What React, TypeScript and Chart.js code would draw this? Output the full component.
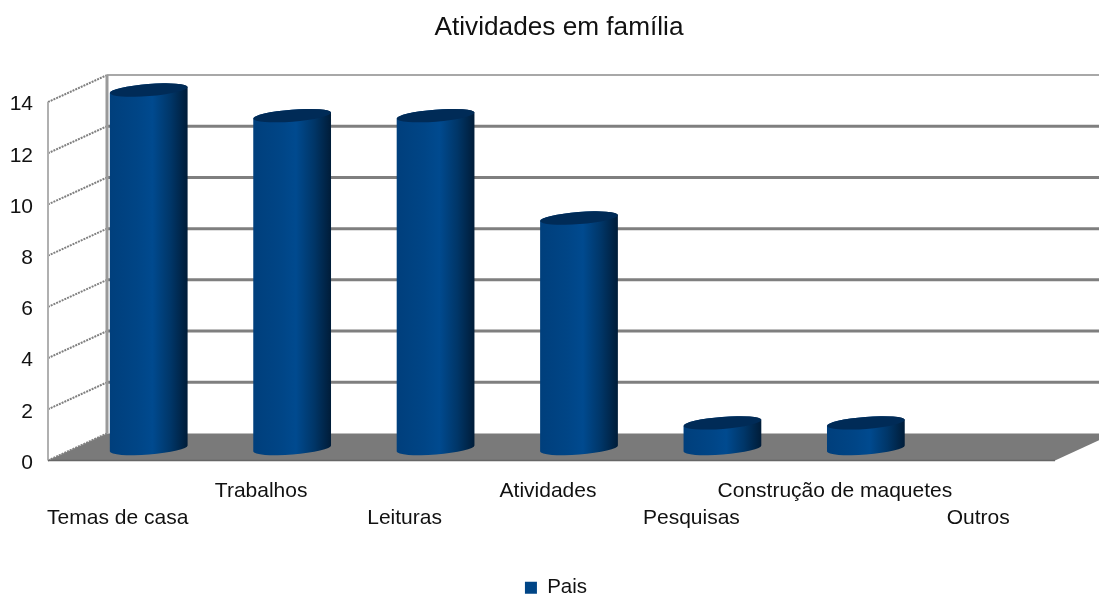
import React, { useEffect, useRef } from "react";
import { Chart, BarController, registerables } from "chart.js";

const categories = ["Temas de casa", "Trabalhos", "Leituras", "Atividades", "Pesquisas", "Construção de maquetes", "Outros"];
const paisValues = [14, 13, 13, 9, 1, 1, 0];
const yTicks = [0, 2, 4, 6, 8, 10, 12, 14];
const chartTitle = "Atividades em família";
const seriesName = "Pais";

const FONT = '"Liberation Sans", Arial, sans-serif';
const DEPTH_X = 59;
const DEPTH_Y = 27;
const BAR_SHIFT_X = 31;
const BAR_SHIFT_Y = 12;
const TILT = (-4.5 * Math.PI) / 180;
const BAR_RY = 6;

class CylinderController extends BarController {
  static id = "cylinder";
  static defaults = BarController.defaults;
  static overrides = BarController.overrides;

  draw() {
    const ctx = this.chart.ctx;
    const bars = this.getMeta().data as any[];
    bars.forEach((bar) => {
      if (Math.abs(bar.base - bar.y) < 1) return;
      const rx = bar.width / 2;
      const cx = bar.x + BAR_SHIFT_X;
      const topY = bar.y - BAR_SHIFT_Y;
      const baseY = bar.base - BAR_SHIFT_Y;
      const dx = rx * Math.cos(TILT);
      const dy = rx * Math.sin(TILT);
      const grad = ctx.createLinearGradient(cx - rx, 0, cx + rx, 0);
      grad.addColorStop(0, "#003f7c");
      grad.addColorStop(0.35, "#004586");
      grad.addColorStop(0.55, "#004a8f");
      grad.addColorStop(0.78, "#003668");
      grad.addColorStop(1, "#001c38");
      ctx.save();
      ctx.beginPath();
      ctx.ellipse(cx, baseY, rx, BAR_RY, TILT, Math.PI, 0, true);
      ctx.lineTo(cx + dx, topY + dy);
      ctx.ellipse(cx, topY, rx, BAR_RY, TILT, 0, Math.PI, true);
      ctx.closePath();
      ctx.fillStyle = grad;
      ctx.fill();
      ctx.beginPath();
      ctx.ellipse(cx, topY, rx, BAR_RY, TILT, 0, Math.PI * 2);
      ctx.fillStyle = "#002b57";
      ctx.fill();
      ctx.restore();
    });
  }
}

Chart.register(...registerables, CylinderController as any);

const walls = {
  id: "walls",
  afterLayout(chart: any) {
    // the tick labels of the value axis sit further left than the axis box
    chart.scales.y.left = 0;
    chart.legend.left -= 3;
    chart.legend.right -= 3;
    chart.legend.top += 1;
    chart.legend.bottom += 1;
  },
  beforeDatasetsDraw(chart: any) {
    const { ctx, scales, width } = chart;
    const y = scales.y;
    const frontL = 48;
    const frontR = 1055;
    const bottom = y.getPixelForValue(0);
    const backL = frontL + DEPTH_X;
    ctx.save();
    // floor
    ctx.beginPath();
    ctx.moveTo(frontL, bottom);
    ctx.lineTo(backL, bottom - DEPTH_Y);
    ctx.lineTo(width, bottom - DEPTH_Y);
    ctx.lineTo(width, bottom - ((width - frontR) * DEPTH_Y) / DEPTH_X);
    ctx.lineTo(frontR, bottom);
    ctx.closePath();
    ctx.fillStyle = "#7a7a7a";
    ctx.fill();
    // gridlines from the value scale
    yTicks.forEach((v) => {
      const py = y.getPixelForValue(v);
      ctx.strokeStyle = "#808080";
      ctx.lineWidth = 2;
      ctx.setLineDash([2, 1]);
      ctx.beginPath();
      ctx.moveTo(frontL, py);
      ctx.lineTo(backL, py - DEPTH_Y);
      ctx.stroke();
      ctx.setLineDash([]);
      if (v > 0) {
        ctx.strokeStyle = v === 14 ? "#a8a8a8" : "#7f7f7f";
        ctx.lineWidth = v === 14 ? 2 : 3;
        ctx.beginPath();
        ctx.moveTo(backL, py - DEPTH_Y);
        ctx.lineTo(width, py - DEPTH_Y);
        ctx.stroke();
      }
    });
    ctx.strokeStyle = "#b0b0b0";
    ctx.lineWidth = 2;
    ctx.beginPath();
    ctx.moveTo(frontL, y.getPixelForValue(14));
    ctx.lineTo(frontL, bottom);
    ctx.stroke();
    ctx.strokeStyle = "#9a9a9a";
    ctx.lineWidth = 3;
    ctx.beginPath();
    ctx.moveTo(backL, y.getPixelForValue(14) - DEPTH_Y);
    ctx.lineTo(backL, bottom - DEPTH_Y);
    ctx.stroke();
    ctx.strokeStyle = "#666666";
    ctx.lineWidth = 1.5;
    ctx.beginPath();
    ctx.moveTo(frontL, bottom);
    ctx.lineTo(frontR, bottom);
    ctx.stroke();
    ctx.restore();
  },
};

export default function App() {
  const ref = useRef<HTMLCanvasElement>(null);
  useEffect(() => {
    document.body.style.margin = "0";
    const chart = new Chart(ref.current!, {
      type: "cylinder" as any,
      data: {
        labels: categories,
        datasets: [
          {
            label: seriesName,
            data: paisValues,
            backgroundColor: "#004586",
            barThickness: 78,
            clip: false as any,
          },
        ],
      },
      plugins: [walls],
      options: {
        responsive: false,
        animation: false,
        devicePixelRatio: 1,
        layout: { padding: { left: 19, right: 0, top: 0, bottom: -13 } },
        plugins: {
          tooltip: { enabled: false },
          title: {
            display: true,
            text: chartTitle,
            color: "#111111",
            font: { family: FONT, size: 26.2, weight: "normal", lineHeight: 1.2 },
            padding: { top: 12, bottom: 58.6 },
          },
          legend: {
            display: true,
            position: "bottom",
            labels: {
              color: "#111111",
              boxWidth: 12,
              boxHeight: 12,
              padding: 4,
              font: { family: FONT, size: 20.5 },
            },
          },
        },
        scales: {
          x: {
            grid: { display: false },
            border: { display: false },
            afterFit: (s: any) => {
              s.height = 112;
            },
            ticks: {
              color: "#111111",
              maxRotation: 0,
              autoSkip: false,
              padding: 9,
              font: { family: FONT, size: 21, lineHeight: 1.286 },
              callback: (_v: any, i: number) => (i % 2 === 0 ? ["", categories[i]] : [categories[i]]),
            },
          },
          y: {
            min: 0,
            max: 14,
            grid: { display: false },
            border: { display: false },
            afterFit: (s: any) => {
              s.width = 27;
            },
            afterBuildTicks: (s: any) => {
              s.ticks = yTicks.map((value) => ({ value }));
            },
            ticks: {
              color: "#111111",
              padding: 5,
              font: { family: FONT, size: 21, lineHeight: "5px" },
              callback: (v: any) => ["", String(v)],
            },
          },
          rightGap: {
            position: "right",
            min: 0,
            max: 14,
            grid: { display: false },
            border: { display: false },
            ticks: { display: false },
            afterFit: (s: any) => {
              s.width = 49;
            },
          },
        },
      },
    } as any);
    return () => chart.destroy();
  }, []);
  return <canvas ref={ref} width={1099} height={594} style={{ display: "block" }} />;
}
